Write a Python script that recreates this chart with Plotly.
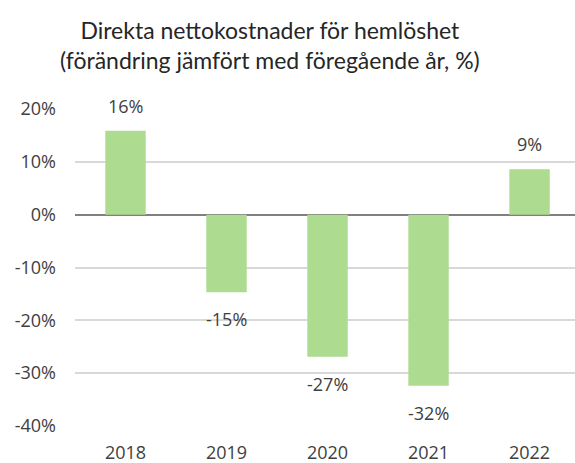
import plotly.graph_objects as go

years = ["2018", "2019", "2020", "2021", "2022"]
values = [15.9, -14.7, -26.9, -32.4, 8.6]
labels = ["16%", "-15%", "-27%", "-32%", "9%"]
y_ticks = [20, 10, 0, -10, -20, -30, -40]
y_tick_text = ["20%", "10%", "0%", "-10%", "-20%", "-30%", "-40%"]

title_text = "Direkta nettokostnader för hemlöshet<br>(förändring jämfört med föregående år, %)"

fig = go.Figure()
fig.add_trace(go.Bar(
    x=years, y=values, width=0.4,
    marker=dict(color="#ADDB8F", line=dict(width=0)),
    hoverinfo="skip",
))

for i, (v, t) in enumerate(zip(values, labels)):
    fig.add_annotation(
        x=i, y=v, text=t, showarrow=False,
        yanchor="middle", yshift=25 if v >= 0 else -27,
        font=dict(family="Open Sans", size=18, color="#404040"),
    )

# title as a paper annotation (plot area spans x 75..575 px, y 109..426 px)
fig.add_annotation(
    xref="paper", yref="paper", x=(270 - 75) / 500, y=(426 - 45) / 317,
    xanchor="center", yanchor="middle", showarrow=False,
    text=title_text, align="center",
    font=dict(family="Lato", size=23, color="#262626"),
)

fig.update_layout(
    width=575, height=463,
    margin=dict(l=75, r=0, t=109, b=37),
    paper_bgcolor="white", plot_bgcolor="white",
    showlegend=False,
    xaxis=dict(
        type="category", range=[-0.5, 4.45],
        showgrid=False, zeroline=False, showline=False,
        ticks="", ticklabelstandoff=14,
        tickfont=dict(family="Open Sans", size=18, color="#404040"),
    ),
    yaxis=dict(
        range=[-40, 20], tickvals=y_ticks, ticktext=y_tick_text,
        showgrid=True, gridcolor="#d9d9d9", gridwidth=1.5,
        zeroline=True, zerolinecolor="#808080", zerolinewidth=2,
        showline=False, ticks="", ticklabelstandoff=18,
        tickfont=dict(family="Open Sans", size=18, color="#404040"),
    ),
)

fig.write_html(
    "out.html",
    config={"displayModeBar": False},
    post_script="document.body.style.margin='0';document.body.style.padding='0';",
)
